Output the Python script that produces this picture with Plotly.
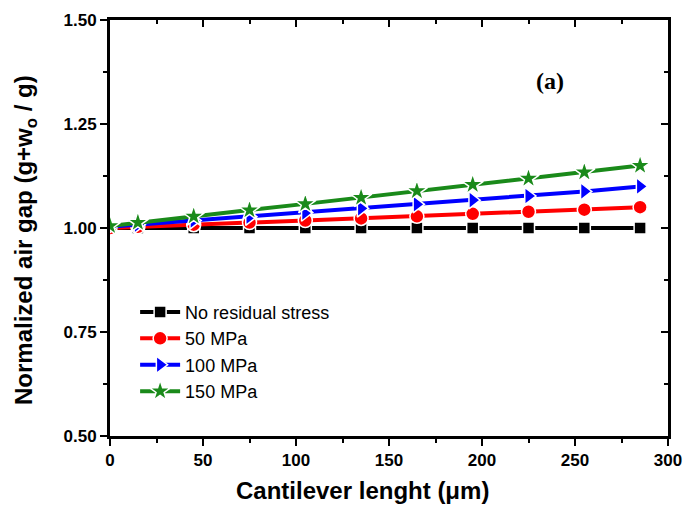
import plotly.graph_objects as go

x_len = [0, 15, 45, 75, 105, 135, 165, 195, 225, 255, 285]
y_none = [1.000, 1.000, 1.000, 1.000, 1.000, 1.000, 1.000, 1.000, 1.000, 1.000, 1.000]
y_50 = [1.000, 1.003, 1.008, 1.013, 1.018, 1.023, 1.028, 1.034, 1.039, 1.044, 1.050]
y_100 = [1.003, 1.008, 1.018, 1.027, 1.037, 1.047, 1.057, 1.067, 1.077, 1.088, 1.100]
y_150 = [1.005, 1.013, 1.028, 1.043, 1.058, 1.073, 1.089, 1.104, 1.119, 1.134, 1.150]

series = [
    ("No residual stress", y_none, "#000000", "square", 12),
    ("50 MPa", y_50, "#ff0000", "circle", 14),
    ("100 MPa", y_100, "#0000ff", "triangle-right", 15),
    ("150 MPa", y_150, "#1a8a1a", "star", 16),
]

FONT = "Liberation Sans, Arial, sans-serif"

fig = go.Figure()
for name, ys, col, sym, sz in series:
    fig.add_trace(go.Scatter(
        x=x_len, y=ys, name=name, mode="lines+markers",
        line=dict(color=col, width=4),
        marker=dict(symbol=sym, size=sz, color=col, line=dict(color="white", width=1.5)),
    ))

# invisible trace to enable mirrored (inside-tick) top/right axes
fig.add_trace(go.Scatter(x=x_len, y=y_none, mode="lines", line=dict(width=0),
                         xaxis="x2", yaxis="y2", showlegend=False, hoverinfo="skip"))

axis_common = dict(showgrid=False, zeroline=False, showline=True, linecolor="black",
                   linewidth=3)

fig.update_layout(
    width=693, height=509,
    margin=dict(l=110, r=25, t=20, b=73),
    paper_bgcolor="white", plot_bgcolor="white",
    font=dict(family=FONT, color="black"),
    xaxis=dict(range=[0, 300], dtick=50, tick0=0, ticks="outside", ticklen=7, tickwidth=2,
               tickcolor="black",
               minor=dict(dtick=25, tick0=0, ticks="outside", ticklen=4, tickwidth=2, tickcolor="black"),
               tickfont=dict(size=17, family=FONT, weight="bold"), **axis_common),
    yaxis=dict(range=[0.5, 1.5], dtick=0.25, tick0=0.5, tickformat=".2f", ticks="outside",
               ticklen=7, tickwidth=2, tickcolor="black",
               minor=dict(dtick=0.125, tick0=0.5, ticks="outside", ticklen=4, tickwidth=2, tickcolor="black"),
               tickfont=dict(size=17, family=FONT, weight="bold"), **axis_common),
    xaxis2=dict(range=[0, 300], overlaying="x", side="top", dtick=50, tick0=0, ticks="inside",
                ticklen=7, tickwidth=2, tickcolor="black", showticklabels=False,
                minor=dict(dtick=25, tick0=0, ticks="inside", ticklen=4, tickwidth=2, tickcolor="black"),
                anchor="y2", **axis_common),
    yaxis2=dict(range=[0.5, 1.5], overlaying="y", side="right", dtick=0.25, tick0=0.5, ticks="inside",
                ticklen=7, tickwidth=2, tickcolor="black", showticklabels=False,
                minor=dict(dtick=0.125, tick0=0.5, ticks="inside", ticklen=4, tickwidth=2, tickcolor="black"),
                anchor="x2", **axis_common),
    legend=dict(x=0.045, y=0.342, xanchor="left", yanchor="top", bgcolor="rgba(0,0,0,0)",
                font=dict(size=18, family=FONT), tracegroupgap=0, itemwidth=40),
    showlegend=True,
)

fig.add_annotation(text="Normalized air gap (g+w<sub>o</sub> / g)", textangle=-90,
                   xref="paper", yref="paper", x=0, y=0.5, xshift=-85, yshift=-12, showarrow=False,
                   xanchor="center", yanchor="middle",
                   font=dict(size=24, family=FONT, weight="bold"))
fig.add_annotation(text="Cantilever lenght (\u03bcm)", xref="paper", yref="paper",
                   x=0.453, y=0, yshift=-54, showarrow=False, xanchor="center", yanchor="middle",
                   font=dict(size=24, family=FONT, weight="bold"))
fig.add_annotation(text="(a)", xref="paper", yref="paper", x=0.789, y=0.853, showarrow=False,
                   xanchor="center", yanchor="middle",
                   font=dict(size=24, family="Liberation Serif, Times New Roman, serif", weight="bold"))

fig.write_html("out.html")
